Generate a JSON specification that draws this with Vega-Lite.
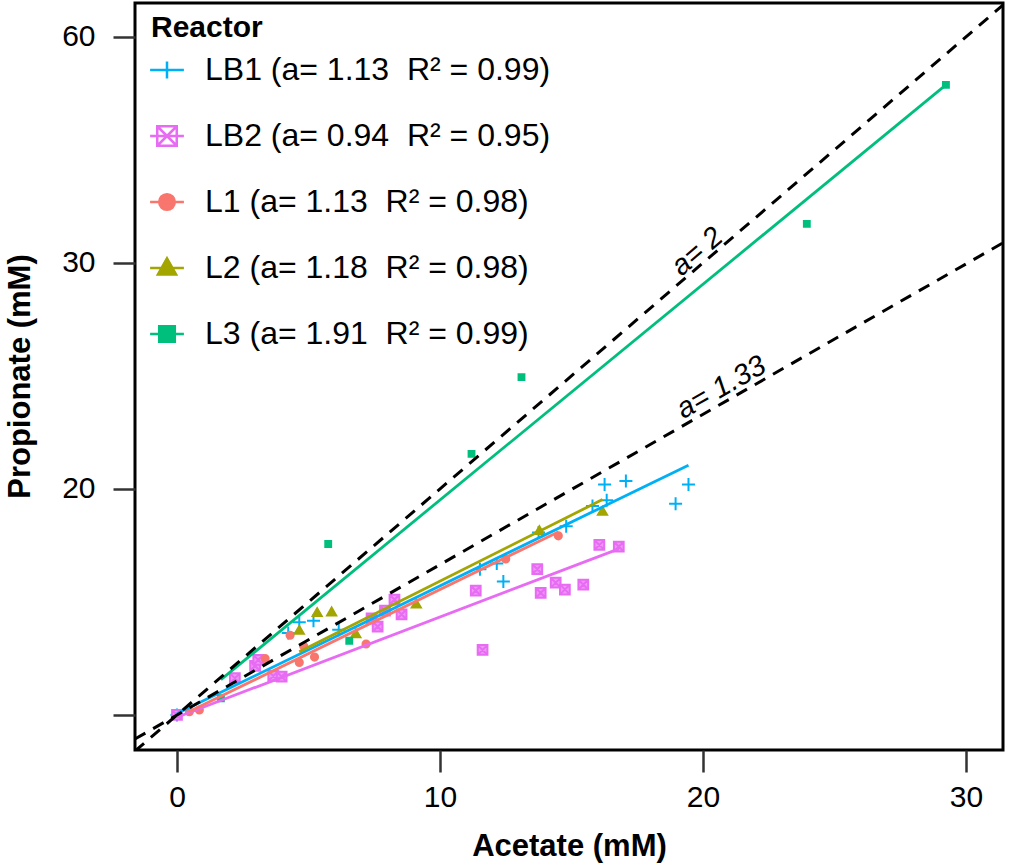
{
  "$schema": "https://vega.github.io/schema/vega-lite/v6.json",
  "width": 868,
  "height": 747,
  "autosize": {"type": "none"},
  "padding": {"left": 135, "top": 3, "right": 6, "bottom": 116},
  "background": "white",
  "config": {
    "view": {"stroke": "black", "strokeWidth": 3},
    "font": "Liberation Sans",
    "axis": {
      "domain": false,
      "grid": false,
      "tickColor": "#333333",
      "tickWidth": 2.5,
      "tickSize": 22,
      "labelFont": "Liberation Sans",
      "labelFontSize": 30,
      "labelColor": "black",
      "titleFont": "Liberation Sans",
      "titleFontSize": 31,
      "titleFontWeight": "bold",
      "titleColor": "black"
    },
    "legend": {
      "labelFont": "Liberation Sans",
      "labelFontSize": 32,
      "labelColor": "black",
      "labelLimit": 0,
      "titleFont": "Liberation Sans",
      "titleFontSize": 30,
      "titleFontWeight": "bold",
      "titleColor": "black"
    }
  },
  "datasets": {
    "pts": [
      {"Reactor": "LB1", "acetate": 0, "propionate": 0},
      {"Reactor": "LB1", "acetate": 4.23, "propionate": 7.25},
      {"Reactor": "LB1", "acetate": 4.65, "propionate": 8.2},
      {"Reactor": "LB1", "acetate": 5.19, "propionate": 8.33},
      {"Reactor": "LB1", "acetate": 6.15, "propionate": 7.55},
      {"Reactor": "LB1", "acetate": 11.52, "propionate": 12.9},
      {"Reactor": "LB1", "acetate": 12.16, "propionate": 13.4},
      {"Reactor": "LB1", "acetate": 12.41, "propionate": 11.8},
      {"Reactor": "LB1", "acetate": 13.75, "propionate": 16.15},
      {"Reactor": "LB1", "acetate": 14.8, "propionate": 16.7},
      {"Reactor": "LB1", "acetate": 15.8, "propionate": 18.5},
      {"Reactor": "LB1", "acetate": 16.34, "propionate": 19.0},
      {"Reactor": "LB1", "acetate": 16.26, "propionate": 20.4},
      {"Reactor": "LB1", "acetate": 17.07, "propionate": 20.7},
      {"Reactor": "LB1", "acetate": 18.96, "propionate": 18.7},
      {"Reactor": "LB1", "acetate": 19.45, "propionate": 20.4},
      {"Reactor": "LB2", "acetate": 0, "propionate": 0},
      {"Reactor": "LB2", "acetate": 2.2, "propionate": 3.25},
      {"Reactor": "LB2", "acetate": 2.97, "propionate": 4.34},
      {"Reactor": "LB2", "acetate": 3.09, "propionate": 4.87},
      {"Reactor": "LB2", "acetate": 3.66, "propionate": 3.45},
      {"Reactor": "LB2", "acetate": 3.98, "propionate": 3.39},
      {"Reactor": "LB2", "acetate": 7.4, "propionate": 8.55},
      {"Reactor": "LB2", "acetate": 7.63, "propionate": 7.82},
      {"Reactor": "LB2", "acetate": 7.91, "propionate": 9.23},
      {"Reactor": "LB2", "acetate": 8.27, "propionate": 10.2},
      {"Reactor": "LB2", "acetate": 8.54, "propionate": 8.9},
      {"Reactor": "LB2", "acetate": 11.36, "propionate": 11.0},
      {"Reactor": "LB2", "acetate": 11.62, "propionate": 5.75},
      {"Reactor": "LB2", "acetate": 13.7, "propionate": 12.9},
      {"Reactor": "LB2", "acetate": 13.83, "propionate": 10.8},
      {"Reactor": "LB2", "acetate": 14.4, "propionate": 11.7},
      {"Reactor": "LB2", "acetate": 14.75, "propionate": 11.1},
      {"Reactor": "LB2", "acetate": 15.45, "propionate": 11.54},
      {"Reactor": "LB2", "acetate": 16.06, "propionate": 15.04},
      {"Reactor": "LB2", "acetate": 16.8, "propionate": 14.9},
      {"Reactor": "L1", "acetate": 0.47, "propionate": 0.29},
      {"Reactor": "L1", "acetate": 0.85, "propionate": 0.44},
      {"Reactor": "L1", "acetate": 3.35, "propionate": 5.0},
      {"Reactor": "L1", "acetate": 4.3, "propionate": 7.05},
      {"Reactor": "L1", "acetate": 4.65, "propionate": 4.65},
      {"Reactor": "L1", "acetate": 4.82, "propionate": 6.08},
      {"Reactor": "L1", "acetate": 5.23, "propionate": 5.12},
      {"Reactor": "L1", "acetate": 7.19, "propionate": 6.28},
      {"Reactor": "L1", "acetate": 12.5, "propionate": 13.8},
      {"Reactor": "L1", "acetate": 14.5, "propionate": 15.85},
      {"Reactor": "L2", "acetate": 4.65, "propionate": 7.48},
      {"Reactor": "L2", "acetate": 5.33, "propionate": 9.05},
      {"Reactor": "L2", "acetate": 5.88, "propionate": 9.1},
      {"Reactor": "L2", "acetate": 6.8, "propionate": 7.17},
      {"Reactor": "L2", "acetate": 9.1, "propionate": 9.8},
      {"Reactor": "L2", "acetate": 13.78, "propionate": 16.3},
      {"Reactor": "L2", "acetate": 16.18, "propionate": 18.0},
      {"Reactor": "L3", "acetate": 1.67, "propionate": 1.48},
      {"Reactor": "L3", "acetate": 5.75, "propionate": 15.13},
      {"Reactor": "L3", "acetate": 6.55, "propionate": 6.57},
      {"Reactor": "L3", "acetate": 11.2, "propionate": 23.1},
      {"Reactor": "L3", "acetate": 13.1, "propionate": 29.9},
      {"Reactor": "L3", "acetate": 23.95, "propionate": 43.45},
      {"Reactor": "L3", "acetate": 29.24, "propionate": 55.75}
    ],
    "fits": [
      {"Reactor": "LB1", "acetate": 0, "propionate": 0.12},
      {"Reactor": "LB1", "acetate": 19.45, "propionate": 22.1},
      {"Reactor": "LB2", "acetate": 0, "propionate": -0.2},
      {"Reactor": "LB2", "acetate": 16.8, "propionate": 14.7},
      {"Reactor": "L1", "acetate": 0.47, "propionate": 0.3},
      {"Reactor": "L1", "acetate": 14.5, "propionate": 16.2},
      {"Reactor": "L2", "acetate": 4.65, "propionate": 5.6},
      {"Reactor": "L2", "acetate": 16.18, "propionate": 19.06},
      {"Reactor": "L3", "acetate": 1.67, "propionate": 3.12},
      {"Reactor": "L3", "acetate": 29.24, "propionate": 55.75}
    ],
    "refs": [
      {"line": "a2", "acetate": -1.6, "propionate": -3.2},
      {"line": "a2", "acetate": 31.5, "propionate": 63.0},
      {"line": "a133", "acetate": -1.6, "propionate": -2.13},
      {"line": "a133", "acetate": 31.5, "propionate": 41.9}
    ]
  },
  "encoding": {
    "x": {
      "field": "acetate",
      "type": "quantitative",
      "scale": {"domain": [-1.597, 31.41], "nice": false, "zero": false},
      "axis": {"values": [0, 10, 20, 30], "title": "Acetate (mM)", "labelPadding": 10, "titleY": 105, "titleBaseline": "alphabetic"}
    },
    "y": {
      "field": "propionate",
      "type": "quantitative",
      "scale": {"domain": [-3.1, 63.0], "nice": false, "zero": false},
      "axis": {
        "values": [0, 20, 40, 60],
        "labelExpr": "datum.value == 60 ? '60' : datum.value == 40 ? '30' : datum.value == 20 ? '20' : ''",
        "title": "Propionate (mM)",
        "labelPadding": 18,
        "titleX": -106,
        "titleY": 373,
        "titleBaseline": "alphabetic"
      }
    }
  },
  "layer": [
    {
      "data": {"name": "pts"},
      "mark": {"type": "point", "filled": true, "size": 169, "strokeWidth": 2, "opacity": 1},
      "encoding": {
        "shape": {
          "field": "Reactor", "type": "nominal", "legend": null,
          "scale": {
            "domain": ["LB1", "LB2", "L1", "L2", "L3"],
            "range": [
              "M-1,0H1M0,-1V1",
              "M-0.75,-0.75H0.75V0.75H-0.75ZM-0.75,-0.75L0.75,0.75M-0.75,0.75L0.75,-0.75",
              "M0.55,0A0.55,0.55,0,1,1,-0.55,0A0.55,0.55,0,1,1,0.55,0Z",
              "M0,-0.7L0.7,0.5H-0.7Z",
              "M-0.45,-0.45H0.45V0.45H-0.45Z"
            ]
          }
        },
        "fill": {
          "field": "Reactor", "type": "nominal", "legend": null,
          "scale": {"domain": ["LB1", "LB2", "L1", "L2", "L3"], "range": ["transparent", "#EE95F6", "#F8766D", "#A3A500", "#00BF7D"]}
        },
        "stroke": {
          "field": "Reactor", "type": "nominal", "legend": null,
          "scale": {"domain": ["LB1", "LB2", "L1", "L2", "L3"], "range": ["#00B0F6", "#E76BF3", "#F8766D", "#A3A500", "#00BF7D"]}
        }
      }
    },
    {
      "data": {"name": "fits"},
      "mark": {"type": "line", "strokeWidth": 2.8},
      "encoding": {
        "color": {
          "field": "Reactor", "type": "nominal", "legend": null,
          "scale": {"domain": ["LB1", "LB2", "L1", "L2", "L3"], "range": ["#00B0F6", "#E76BF3", "#F8766D", "#A3A500", "#00BF7D"]}
        }
      }
    },
    {
      "data": {"name": "refs"},
      "mark": {"type": "line", "color": "black", "strokeWidth": 3, "strokeDash": [12, 9], "clip": true},
      "encoding": {"detail": {"field": "line", "type": "nominal"}}
    },
    {
      "data": {"values": [{"label": "a= 2", "acetate": 20.0, "propionate": 40.4}]},
      "mark": {"type": "text", "angle": -40.7, "align": "center", "baseline": "alphabetic", "fontSize": 29, "fontStyle": "italic", "font": "Liberation Sans", "color": "black"},
      "encoding": {"text": {"field": "label"}}
    },
    {
      "data": {"values": [{"label": "a= 1.33", "acetate": 20.86, "propionate": 28.3}]},
      "mark": {"type": "text", "angle": -29.7, "align": "center", "baseline": "alphabetic", "fontSize": 29, "fontStyle": "italic", "font": "Liberation Sans", "color": "black"},
      "encoding": {"text": {"field": "label"}}
    },
    {
      "data": {"name": "pts"},
      "mark": {"type": "point", "filled": true, "size": 0, "strokeWidth": 2.5, "opacity": 1},
      "encoding": {
        "shape": {
          "field": "Reactor", "type": "nominal",
          "scale": {
            "domain": ["LB1", "LB2", "L1", "L2", "L3"],
            "range": [
              "M-1.3,0H1.3M0,-0.65V0.65",
              "M-1.3,0H1.3M-0.75,-0.75H0.75V0.75H-0.75ZM-0.75,-0.75L0.75,0.75M-0.75,0.75L0.75,-0.75",
              "M-1.3,0H1.3M0.6,0A0.6,0.6,0,1,1,-0.6,0A0.6,0.6,0,1,1,0.6,0Z",
              "M-1.3,0H1.3M0,-0.75L0.7,0.5H-0.7Z",
              "M-1.3,0H1.3M-0.6,-0.6H0.6V0.6H-0.6Z"
            ]
          },
          "legend": {
            "title": "Reactor", "orient": "none", "legendX": 16, "legendY": 10, "padding": 0,
            "symbolSize": 676, "symbolStrokeWidth": 2.5, "labelOffset": 22, "rowPadding": 34, "titlePadding": 11,
            "labelExpr": "datum.label == 'LB1' ? 'LB1 (a= 1.13\u00a0\u00a0R² = 0.99)' : datum.label == 'LB2' ? 'LB2 (a= 0.94\u00a0\u00a0R² = 0.95)' : datum.label == 'L1' ? 'L1 (a= 1.13\u00a0\u00a0R² = 0.98)' : datum.label == 'L2' ? 'L2 (a= 1.18\u00a0\u00a0R² = 0.98)' : 'L3 (a= 1.91\u00a0\u00a0R² = 0.99)'"
          }
        },
        "fill": {
          "field": "Reactor", "type": "nominal",
          "scale": {"domain": ["LB1", "LB2", "L1", "L2", "L3"], "range": ["transparent", "transparent", "#F8766D", "#A3A500", "#00BF7D"]},
          "legend": {
            "title": "Reactor", "orient": "none", "legendX": 16, "legendY": 10, "padding": 0,
            "symbolSize": 676, "symbolStrokeWidth": 2.5, "labelOffset": 22, "rowPadding": 34, "titlePadding": 11,
            "labelExpr": "datum.label == 'LB1' ? 'LB1 (a= 1.13\u00a0\u00a0R² = 0.99)' : datum.label == 'LB2' ? 'LB2 (a= 0.94\u00a0\u00a0R² = 0.95)' : datum.label == 'L1' ? 'L1 (a= 1.13\u00a0\u00a0R² = 0.98)' : datum.label == 'L2' ? 'L2 (a= 1.18\u00a0\u00a0R² = 0.98)' : 'L3 (a= 1.91\u00a0\u00a0R² = 0.99)'"
          }
        },
        "stroke": {
          "field": "Reactor", "type": "nominal",
          "scale": {"domain": ["LB1", "LB2", "L1", "L2", "L3"], "range": ["#00B0F6", "#E76BF3", "#F8766D", "#A3A500", "#00BF7D"]},
          "legend": {
            "title": "Reactor", "orient": "none", "legendX": 16, "legendY": 10, "padding": 0,
            "symbolSize": 676, "symbolStrokeWidth": 2.5, "labelOffset": 22, "rowPadding": 34, "titlePadding": 11,
            "labelExpr": "datum.label == 'LB1' ? 'LB1 (a= 1.13\u00a0\u00a0R² = 0.99)' : datum.label == 'LB2' ? 'LB2 (a= 0.94\u00a0\u00a0R² = 0.95)' : datum.label == 'L1' ? 'L1 (a= 1.13\u00a0\u00a0R² = 0.98)' : datum.label == 'L2' ? 'L2 (a= 1.18\u00a0\u00a0R² = 0.98)' : 'L3 (a= 1.91\u00a0\u00a0R² = 0.99)'"
          }
        }
      }
    }
  ],
  "resolve": {"scale": {"shape": "independent", "fill": "independent", "stroke": "independent"}}
}
